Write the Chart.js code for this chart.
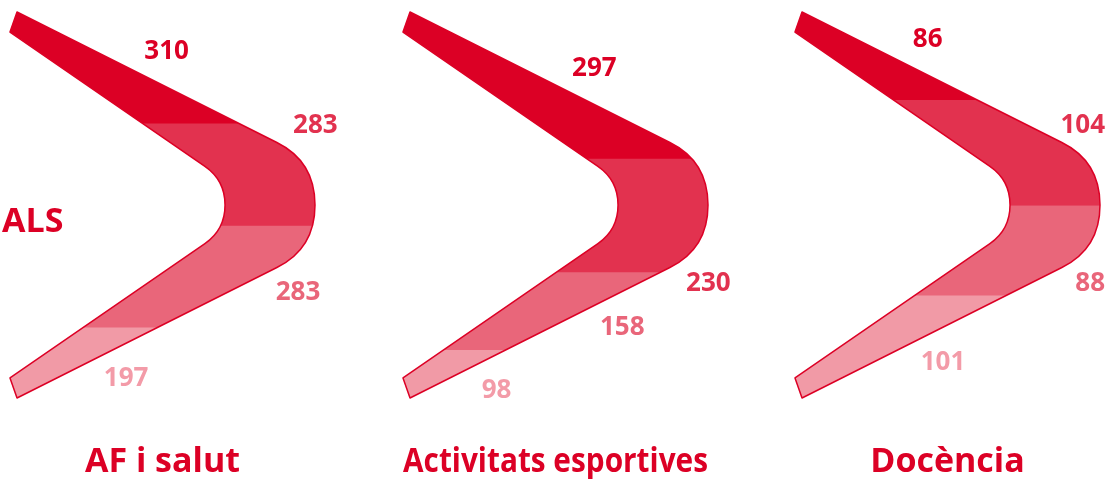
<!DOCTYPE html>
<html>
<head>
<meta charset="utf-8">
<script src="https://cdn.jsdelivr.net/npm/chart.js@4.4.0/dist/chart.umd.min.js"></script>
<style>
  html, body { margin: 0; padding: 0; background: #fff; overflow: hidden; }
  #wrap { position: relative; width: 1109px; height: 479px; }
  .panel { position: absolute; top: 0; height: 479px; }
</style>
</head>
<body>
<div id="wrap">
  <div class="panel" style="left:0;width:393px"><canvas id="c0"></canvas></div>
  <div class="panel" style="left:393px;width:392px"><canvas id="c1"></canvas></div>
  <div class="panel" style="left:785px;width:324px"><canvas id="c2"></canvas></div>
</div>
<script>
// data
const categories = ['AF i salut', 'Activitats esportives', 'Docència'];
const rowLabel = 'ALS';
const segment1 = [310, 297, 86];
const segment2 = [283, 230, 104];
const segment3 = [283, 158, 88];
const segment4 = [197, 98, 101];

const segmentColors = ['#DC0025', '#E2324F', '#E9667A', '#F19AA6'];
const labelColors = ['#DC0025', '#E2324F', '#E9667A', '#F39BA8'];
const red = '#DC0025';

// chevron outline, as fractions of the chart area
const SHAPE = {
  A: [0.023, 0], C: [0.875, 0.338], c1: [1, 0.387], R: [1, 0.5], c2: [1, 0.613],
  D: [0.875, 0.662], E: [0.023, 1], F: [0, 0.948], G: [0.639, 0.6],
  c3: [0.705, 0.564], Ri: [0.705, 0.5], c4: [0.705, 0.436], H: [0.639, 0.4], B: [0, 0.052]
};

function pt(a, key) {
  return { x: a.left + SHAPE[key][0] * a.width, y: a.top + SHAPE[key][1] * a.height };
}

function chevronPath(ctx, a) {
  const p = k => pt(a, k);
  ctx.beginPath();
  ctx.moveTo(p('A').x, p('A').y);
  ctx.lineTo(p('C').x, p('C').y);
  ctx.quadraticCurveTo(p('c1').x, p('c1').y, p('R').x, p('R').y);
  ctx.quadraticCurveTo(p('c2').x, p('c2').y, p('D').x, p('D').y);
  ctx.lineTo(p('E').x, p('E').y);
  ctx.lineTo(p('F').x, p('F').y);
  ctx.lineTo(p('G').x, p('G').y);
  ctx.quadraticCurveTo(p('c3').x, p('c3').y, p('Ri').x, p('Ri').y);
  ctx.quadraticCurveTo(p('c4').x, p('c4').y, p('H').x, p('H').y);
  ctx.lineTo(p('B').x, p('B').y);
  ctx.closePath();
}

function unit(v) {
  const l = Math.hypot(v.x, v.y);
  return { x: v.x / l, y: v.y / l };
}

// spot next to the outer edge for a label whose segment middle is at y
function labelSpot(a, y) {
  const A = pt(a, 'A'), C = pt(a, 'C'), D = pt(a, 'D'), E = pt(a, 'E');
  if (y > C.y && y < D.y) {
    y = (y - C.y < D.y - y) ? C.y : D.y;
  }
  let x, t, n;
  if (y <= C.y) {
    x = A.x + (y - A.y) / (C.y - A.y) * (C.x - A.x);
    t = unit({ x: C.x - A.x, y: C.y - A.y });
    n = { x: t.y, y: -t.x };
  } else {
    x = E.x + (y - E.y) / (D.y - E.y) * (D.x - E.x);
    t = unit({ x: D.x - E.x, y: D.y - E.y });
    n = { x: -t.y, y: t.x };
  }
  return { x: x + n.x * 32 + t.x * 27, y: y + n.y * 32 + t.y * 27 };
}

const chevronPlugin = {
  id: 'chevron',
  beforeDatasetsDraw(chart) {
    const ctx = chart.ctx;
    ctx.save();
    chevronPath(ctx, chart.chartArea);
    ctx.clip();
  },
  afterDatasetsDraw(chart) {
    const ctx = chart.ctx;
    const a = chart.chartArea;
    ctx.restore();

    ctx.save();
    chevronPath(ctx, a);
    ctx.lineWidth = 1.5;
    ctx.lineJoin = 'round';
    ctx.strokeStyle = red;
    ctx.stroke();

    ctx.font = 'bold 26px "Open Sans"';
    ctx.textAlign = 'center';
    ctx.textBaseline = 'middle';
    chart.data.datasets.forEach((ds, k) => {
      const bar = chart.getDatasetMeta(k).data[0];
      const mid = (bar.y + bar.base) / 2;
      const s = labelSpot(a, mid);
      const txt = String(ds.data[0]);
      const w = ctx.measureText(txt).width;
      let x = s.x;
      if (x + w / 2 > chart.width - 4) x = chart.width - 4 - w / 2;
      ctx.fillStyle = labelColors[k];
      ctx.fillText(txt, x, s.y);
    });
    ctx.restore();
  }
};

const rowLabelPlugin = {
  id: 'rowLabel',
  afterDraw(chart) {
    const ctx = chart.ctx;
    ctx.save();
    ctx.font = 'bold 34px "Open Sans"';
    ctx.fillStyle = red;
    ctx.textAlign = 'left';
    ctx.textBaseline = 'middle';
    ctx.fillText(rowLabel, 2, 222);
    ctx.restore();
  }
};

const panelWidths = [393, 392, 324];

categories.forEach((cat, i) => {
  const values = [segment1[i], segment2[i], segment3[i], segment4[i]];
  const total = values.reduce((s, v) => s + v, 0);
  const plugins = [chevronPlugin];
  if (i == 0) plugins.push(rowLabelPlugin);

  new Chart(document.getElementById('c' + i), {
    type: 'bar',
    data: {
      labels: [rowLabel],
      datasets: values.map((v, k) => ({
        label: 'segment ' + (k + 1),
        data: [v],
        backgroundColor: segmentColors[k],
        borderWidth: 0,
        barPercentage: 1,
        categoryPercentage: 1
      }))
    },
    options: {
      responsive: true,
      maintainAspectRatio: false,
      animation: false,
      devicePixelRatio: 1,
      layout: { padding: { left: 10, right: panelWidths[i] - 315, top: 12, bottom: 0 } },
      scales: {
        x: { stacked: true, display: false },
        y: { stacked: true, display: false, reverse: true, min: 0, max: total }
      },
      plugins: {
        legend: { display: false },
        tooltip: { enabled: false },
        title: {
          display: true,
          text: cat,
          position: 'bottom',
          color: red,
          font: { family: 'Open Sans', size: 34, weight: 'bold', lineHeight: 1 },
          padding: { top: 47, bottom: 0 }
        }
      }
    },
    plugins: plugins
  });
});
</script>
</body>
</html>
